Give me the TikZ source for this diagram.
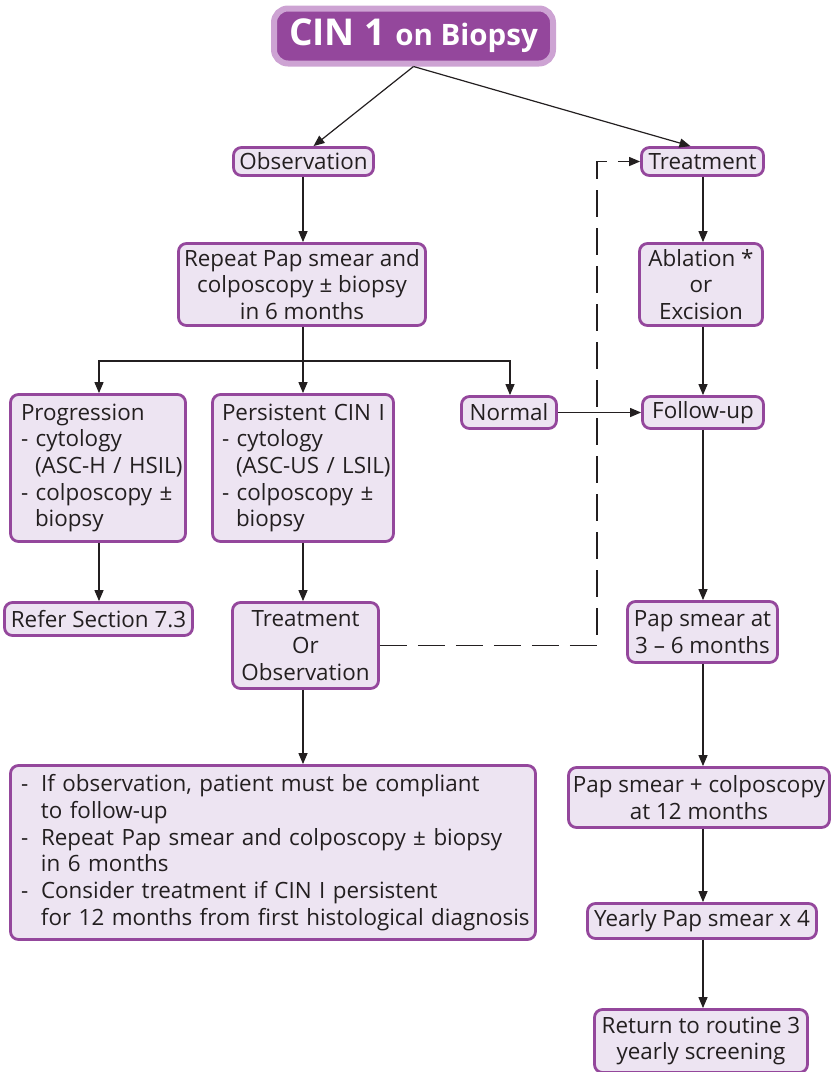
\documentclass[tikz,border=0pt]{standalone}
\usepackage{fontspec}
\setmainfont{Open Sans}
\usetikzlibrary{arrows.meta}
\definecolor{purp}{HTML}{94479C}
\definecolor{ring}{HTML}{CDA3D3}
\definecolor{lav}{HTML}{EDE4F2}
\definecolor{ink}{HTML}{231F20}
\newcommand{\bodytext}{\fontsize{22.4}{26.7}\selectfont\hyphenpenalty=10000 }
\newcommand{\dsh}{\makebox[20pt][l]{-}}
\newcommand{\ind}{\hspace*{20pt}}
\newcommand{\sub}{\hspace*{14pt}}
\begin{document}
\begin{tikzpicture}[x=1pt,y=-1pt,
  box/.style={draw=purp, line width=2.8pt, fill=lav, rounded corners=8pt,
    inner sep=0pt, text=ink, font=\bodytext, align=center},
  titlebox/.style={draw=ring, line width=6pt, fill=purp, rounded corners=14pt,
    inner sep=0pt, text=white, minimum width=279pt, minimum height=55pt},
  arr/.style={draw=ink, line width=1.2pt, -{Triangle[width=9pt,length=11pt]}},
  dashedarr/.style={arr, dash pattern=on 27pt off 11pt}]
\useasboundingbox (0,0) rectangle (834,1072);

% title
\node[titlebox] (title) at (413.5,36) {\bfseries\fontsize{37}{37}\selectfont CIN 1 \fontsize{29.5}{29.5}\selectfont on Biopsy};

% observation branch
\node[box, minimum width=140pt, minimum height=28pt] (obs) at (303.5,161.5) {Observation};
\node[box, minimum width=247pt, minimum height=82pt] (rep) at (302,284.5)
  {Repeat Pap smear and\\colposcopy ± biopsy\\in 6 months};
\node[box, minimum width=175pt, minimum height=147pt, text width=154pt, align=left] (prog) at (98,468)
  {\mbox{Progression}\\\mbox{- cytology}\\\mbox{\sub(ASC-H / HSIL)}\\\mbox{- colposcopy ±}\\\mbox{\sub biopsy}};
\node[box, minimum width=181pt, minimum height=147pt, text width=162pt, align=left] (pers) at (303,468)
  {\mbox{Persistent CIN I}\\\mbox{- cytology}\\\mbox{\sub(ASC-US / LSIL)}\\\mbox{- colposcopy ±}\\\mbox{\sub biopsy}};
\node[box, minimum width=95pt, minimum height=32pt] (norm) at (509,412.5) {Normal};
\node[box, minimum width=188pt, minimum height=33pt] (refer) at (98.5,619) {Refer Section 7.3};
\node[box, minimum width=146pt, minimum height=86pt] (too) at (305.5,645.5)
  {Treatment\\Or\\Observation};
\node[box, minimum width=525pt, minimum height=174pt, text width=504pt, align=left] (big) at (273,852.5)
  {\mbox{\dsh If observation, patient must be compliant}\\
   \mbox{\ind to follow-up}\\
   \mbox{\dsh Repeat Pap smear and colposcopy ± biopsy}\\
   \mbox{\ind in 6 months}\\
   \mbox{\dsh Consider treatment if CIN I persistent}\\
   \mbox{\ind for 12 months from first histological diagnosis}};

% treatment branch
\node[box, minimum width=122pt, minimum height=28pt] (treat) at (702.5,161.5) {Treatment};
\node[box, minimum width=123pt, minimum height=82pt] (abl) at (701,284.5)
  {Ablation *\\or\\Excision};
\node[box, minimum width=121pt, minimum height=32pt] (fol) at (703,412.5) {Follow-up};
\node[box, minimum width=150pt, minimum height=61pt] (pap) at (702.5,632)
  {Pap smear at\\3 – 6 months};
\node[box, minimum width=261pt, minimum height=60pt] (papcol) at (699,797.5)
  {Pap smear + colposcopy\\at 12 months};
\node[box, minimum width=229pt, minimum height=35pt] (year) at (702,921) {Yearly Pap smear x 4};
\node[box, minimum width=213pt, minimum height=63pt] (ret) at (701,1041)
  {Return to routine 3\\yearly screening};

% connectors
\coordinate (split) at (303,361);
\coordinate (jog) at (597,400);
\draw[arr] (title.south) -- ([xshift=10pt]obs.north);
\draw[arr] (title.south) -- ([xshift=-12pt]treat.north);
\draw[arr] (obs.south -| 303,0) -- (rep.north -| 303,0);
\draw[draw=ink, line width=1.2pt] (rep.south -| 303,0) -- (split);
\draw[arr] (split) -| (prog.north -| 99,0);
\draw[arr] (split) -- (pers.north -| 303,0);
\draw[arr] (split) -| (norm.north -| 510,0);
\draw[arr] (prog.south -| 99,0) -- (refer.north -| 99,0);
\draw[arr] (pers.south -| 303,0) -- (too.north -| 303,0);
\draw[arr] (too.south -| 303,0) -- (big.north -| 303,0);
\draw[dashedarr] (too.east) -| (jog) |- (treat.west);
\draw[arr] (norm.east) -- (fol.west);
\draw[arr] (treat.south -| 703,0) -- (abl.north -| 703,0);
\draw[arr] (abl.south -| 703,0) -- (fol.north -| 703,0);
\draw[arr] (fol.south -| 703,0) -- (pap.north -| 703,0);
\draw[arr] (pap.south -| 703,0) -- (papcol.north -| 703,0);
\draw[arr] (papcol.south -| 703,0) -- (year.north -| 703,0);
\draw[arr] (year.south -| 703,0) -- (ret.north -| 703,0);
\end{tikzpicture}
\end{document}
